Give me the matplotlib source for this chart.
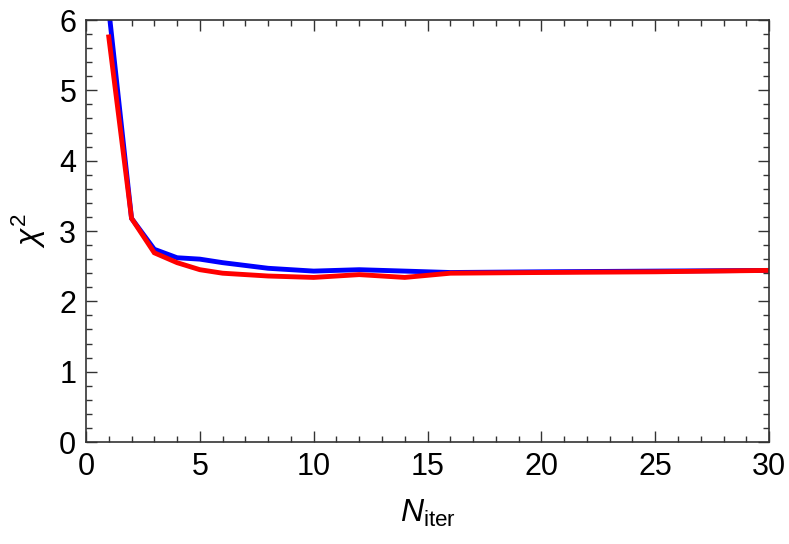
import matplotlib
matplotlib.use("Agg")
import matplotlib.pyplot as plt
from matplotlib.ticker import MultipleLocator

plt.rcParams['font.family'] = ['Liberation Sans', 'DejaVu Sans']
plt.rcParams['mathtext.fontset'] = 'custom'
plt.rcParams['mathtext.rm'] = 'Liberation Sans'
plt.rcParams['mathtext.it'] = 'Liberation Sans:italic'

x_blue = [1, 2, 3, 4, 5, 6, 7, 8, 9, 10, 12, 14, 16, 20, 25, 30]
y_blue = [6.15, 3.18, 2.74, 2.62, 2.60, 2.55, 2.51, 2.47, 2.45, 2.43, 2.45, 2.43, 2.41, 2.42, 2.43, 2.44]
x_red = [1, 2, 3, 4, 5, 6, 7, 8, 9, 10, 12, 14, 16, 20, 25, 30]
y_red = [5.76, 3.18, 2.69, 2.55, 2.45, 2.40, 2.38, 2.36, 2.35, 2.34, 2.38, 2.34, 2.40, 2.41, 2.42, 2.44]

fig = plt.figure(figsize=(7.89, 5.44), dpi=100)
ax = fig.add_axes([0.109, 0.1875, 0.8657, 0.7757])
ax.plot(x_blue, y_blue, color='#0000ff', lw=3.5, solid_joinstyle='miter')
ax.plot(x_red, y_red, color='#ff0000', lw=3.5, solid_joinstyle='miter')

ax.set_xlim(0, 30)
ax.set_ylim(0, 6)
ax.xaxis.set_major_locator(MultipleLocator(5))
ax.xaxis.set_minor_locator(MultipleLocator(1))
ax.yaxis.set_major_locator(MultipleLocator(1))
ax.yaxis.set_minor_locator(MultipleLocator(0.2))
ax.tick_params(which='both', direction='in', top=True, right=True, color='#333333', width=1.0)
ax.tick_params(which='major', length=8, labelsize=22, pad=7)
ax.tick_params(which='minor', length=4)
for s in ax.spines.values():
    s.set_color('#333333')
    s.set_linewidth(1.2)

ax.set_xlabel(r'$N_{\mathrm{iter}}$', fontsize=23, labelpad=12)
ax.set_ylabel(r'$\chi^2$', fontsize=23, labelpad=8)

fig.savefig('out.png', dpi=100)
